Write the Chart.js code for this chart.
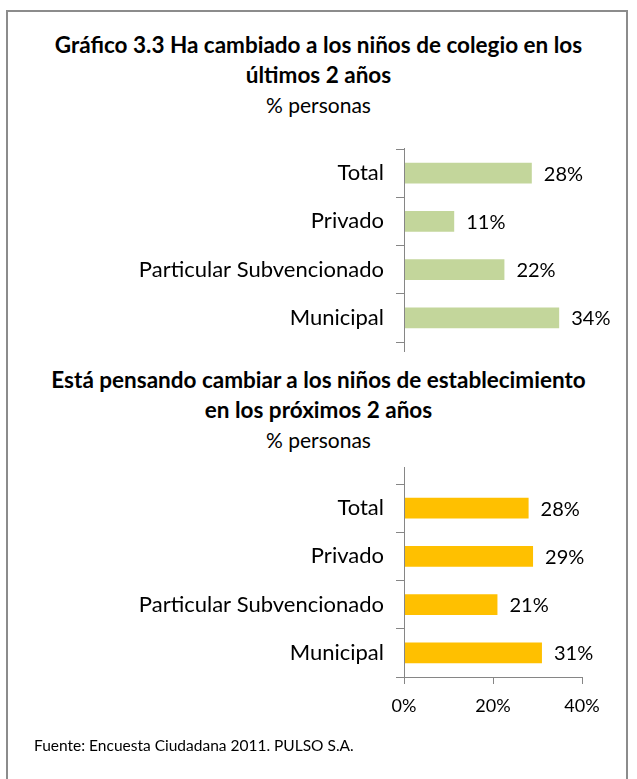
<!DOCTYPE html>
<html>
<head>
<meta charset="utf-8">
<script src="https://cdn.jsdelivr.net/npm/chart.js@4"></script>
<style>
  body { margin: 0; background: #fff; font-family: Lato, 'Open Sans', sans-serif; }
  #page { position: relative; width: 637px; height: 779px; overflow: hidden; }
  .frame { position: absolute; left: 6px; top: 10px; width: 622px; height: 800px; border: 2px solid #8c8c8c; box-sizing: border-box; }
  .ttl { position: absolute; left: 0; width: 637px; text-align: center; color: #000; }
  .ttl b { font-size: 22.5px; }
  .sub { font-size: 21px; }
  canvas { position: absolute; left: 0; top: 0; }
  .src { position: absolute; left: 34px; top: 736px; font-size: 15.5px; color: #000; }
</style>
</head>
<body>
<div id="page">
  <div class="frame"></div>
  <div class="ttl" style="top:31px;line-height:28px;"><b>Gráfico 3.3 Ha cambiado a los niños de colegio en los<br>últimos 2 años</b><br><span class="sub">% personas</span></div>
  <div class="ttl" style="top:366px;line-height:28px;"><b>Está pensando cambiar a los niños de establecimiento<br>en los próximos 2 años</b><br><span class="sub">% personas</span></div>
  <canvas id="chart-top" width="637" height="779"></canvas>
  <canvas id="chart-bottom" width="637" height="779"></canvas>
  <div class="src">Fuente: Encuesta Ciudadana 2011. PULSO S.A.</div>
</div>
<script>
const categories = ['Total', 'Privado', 'Particular Subvencionado', 'Municipal'];
const cambiado = [28, 11, 22, 34];
const pensando = [28, 29, 21, 31];
const xTicks = [0, 20, 40];

const axisGray = '#868686';
const fontFamily = "Lato, 'Open Sans', sans-serif";

// value labels to the right of each bar
const valueLabels = {
  id: 'valueLabels',
  afterDatasetsDraw(chart) {
    const ctx = chart.ctx;
    const meta = chart.getDatasetMeta(0);
    ctx.save();
    ctx.font = '20px ' + fontFamily;
    ctx.fillStyle = '#000';
    ctx.textBaseline = 'middle';
    meta.data.forEach((bar, i) => {
      ctx.fillText(chart.data.datasets[0].data[i] + '%', bar.x + 12, bar.y + 1);
    });
    ctx.restore();
  }
};

// y axis line runs a bit past the category ticks, like the original
const axisLine = {
  id: 'axisLine',
  afterDraw(chart, args, opts) {
    const ctx = chart.ctx;
    const a = chart.chartArea;
    ctx.save();
    ctx.strokeStyle = axisGray;
    ctx.lineWidth = 1;
    ctx.beginPath();
    ctx.moveTo(a.left + 0.5, a.top - opts.extTop);
    ctx.lineTo(a.left + 0.5, a.bottom + opts.extBottom);
    ctx.stroke();
    ctx.restore();
  }
};

function makeChart(id, values, color, opts) {
  return new Chart(document.getElementById(id), {
    type: 'bar',
    data: {
      labels: categories,
      datasets: [{
        data: values,
        backgroundColor: color,
        borderWidth: 0,
        barPercentage: 0.43,
        categoryPercentage: 1
      }]
    },
    options: {
      indexAxis: 'y',
      responsive: false,
      animation: false,
      layout: { padding: opts.padding },
      scales: {
        y: {
          afterFit: (scale) => { scale.width = 404; },
          grid: {
            drawOnChartArea: false,
            offset: true,
            tickLength: 8,
            color: axisGray
          },
          border: { display: false },
          ticks: {
            color: '#000',
            padding: 12,
            font: { size: 22, family: fontFamily }
          }
        },
        x: {
          display: opts.showX,
          min: 0,
          max: opts.xMax,
          afterFit: (scale) => { scale.height = opts.showX ? 40 : 0; },
          afterBuildTicks: (scale) => { scale.ticks = xTicks.map(v => ({ value: v })); },
          grid: {
            drawOnChartArea: false,
            tickLength: 7,
            color: axisGray
          },
          border: { color: axisGray },
          ticks: {
            color: '#000',
            padding: 11,
            font: { size: 18, family: fontFamily },
            callback: (v) => v + '%'
          }
        }
      },
      plugins: {
        legend: { display: false },
        tooltip: { enabled: false },
        axisLine: { extTop: opts.extTop, extBottom: opts.extBottom }
      }
    },
    plugins: [valueLabels, axisLine]
  });
}

makeChart('chart-top', cambiado, '#C3D69B', {
  padding: { top: 149, bottom: 437, left: 0, right: 55 },
  showX: false,
  xMax: 39,
  extTop: 1,
  extBottom: 10
});

makeChart('chart-bottom', pensando, '#FFC000', {
  padding: { top: 484, bottom: 62, left: 0, right: 55 },
  showX: true,
  xMax: 40,
  extTop: 17,
  extBottom: 0
});
</script>
</body>
</html>
